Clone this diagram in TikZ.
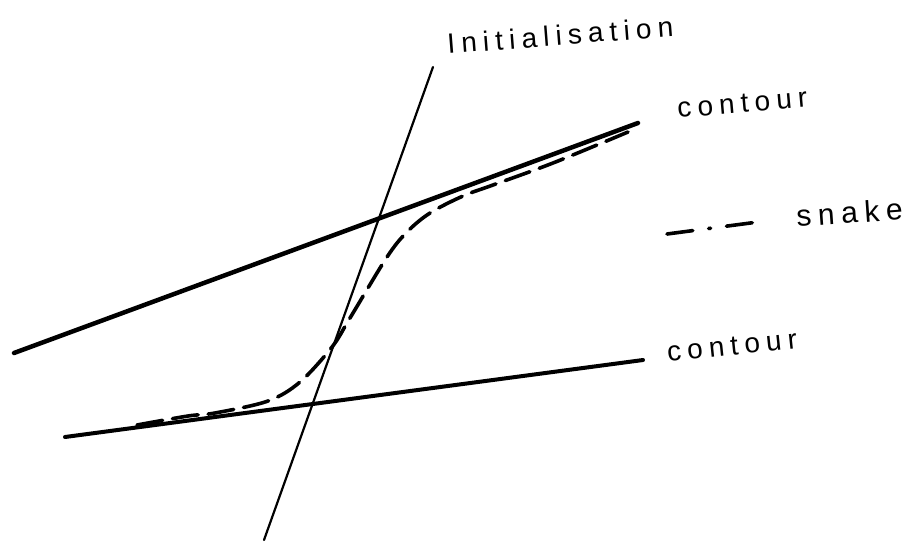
\documentclass[tikz,border=0pt]{standalone}
\usepackage{fontspec}
\setmainfont{Liberation Sans}
\newfontfamily\handfont[LetterSpace=22]{Liberation Sans}
\begin{document}
\begin{tikzpicture}[x=1pt,y=-1pt,
  contourline/.style={line width=4.5pt,line cap=round},
  initline/.style={line width=2.2pt,line cap=round},
  snakeline/.style={line width=3.6pt,line cap=round,dash pattern=on 26pt off 10pt},
  legendline/.style={line width=3.6pt,line cap=round,dash pattern=on 26pt off 16pt on 2pt off 16pt},
  lbl/.style={inner sep=0pt,font=\handfont\fontsize{28}{30}\selectfont,anchor=base west}]
\useasboundingbox (0,0) rectangle (916,544);
% coordinates
\coordinate (c1a) at (14,353);
\coordinate (c1b) at (638,123);
\coordinate (c2a) at (65,437);
\coordinate (c2b) at (643,360);
\coordinate (ia) at (433,67);
\coordinate (ib) at (264,540);
\coordinate (la) at (667,234);
\coordinate (lb) at (758,222);
% lines
\draw[contourline] (c1a) -- (c1b);
\draw[contourline,line width=4pt] (c2a) -- (c2b);
\draw[initline] (ia) -- (ib);
% snake
\draw[snakeline] plot[smooth,tension=0.55] coordinates {
  (137,425) (188,416) (215,413) (268,401) (300,382) (332,347) (350,318)
  (387,257) (407,232) (430,213) (463,196) (493,185) (553,163) (628,132)};
% legend
\draw[legendline] (la) -- (lb);
% labels
\node[lbl,rotate=4.5] (init) at (448,54) {Initialisation};
\node[lbl,rotate=5] (ctop) at (678,118) {contour};
\node[lbl,rotate=4,font=\handfont\fontsize{30}{32}\selectfont] (snk) at (797,227) {snake};
\node[lbl,rotate=6] (cbot) at (668,362) {contour};
\end{tikzpicture}
\end{document}
